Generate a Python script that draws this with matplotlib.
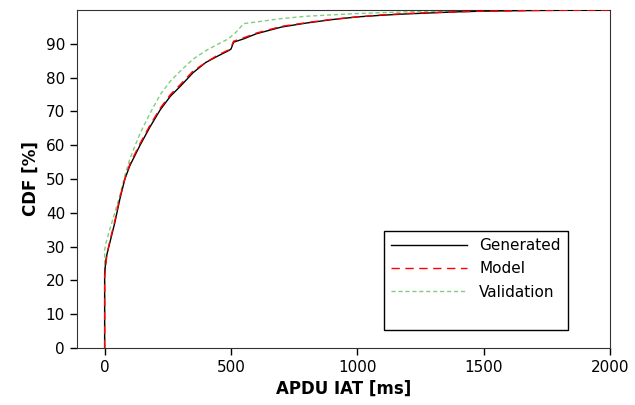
import numpy as np
import matplotlib
matplotlib.use('Agg')
import matplotlib.pyplot as plt
from matplotlib.lines import Line2D

# CDF curves (x in ms, y in %)
gen_x = [0, 0, 5, 10, 20, 40, 60, 80, 100, 140, 180, 220, 260, 300, 350, 400, 450, 490, 500,
         510, 550, 600, 700, 800, 900, 1000, 1100, 1200, 1300, 1400, 1500, 1700, 2000]
gen_y = [0, 22, 26, 28, 31, 37, 44, 50, 54, 60, 65.5, 70.5, 74.5, 77.5, 81.5, 84.5, 86.5, 88, 88.5,
         90.5, 91.5, 93, 95, 96.2, 97.2, 98, 98.5, 98.9, 99.2, 99.5, 99.7, 99.9, 100]

model_x = [0, 0, 5, 10, 20, 40, 60, 80, 100, 140, 180, 220, 260, 300, 350, 400, 450, 490, 500,
           510, 550, 600, 700, 800, 900, 1000, 1100, 1200, 1300, 1400, 1500, 1700, 2000]
model_y = [0, 21, 25, 28, 31.5, 37.5, 44.5, 50, 54.5, 60.5, 66, 71, 75, 78, 82, 84.5, 86.8, 88.2, 89,
           90.8, 91.8, 93.2, 95.2, 96.3, 97.3, 98, 98.6, 99, 99.3, 99.5, 99.7, 99.9, 100]

val_x = [0, 0, 5, 20, 40, 60, 80, 100, 140, 180, 220, 260, 300, 350, 400, 450, 490,
         520, 550, 600, 700, 800, 1000, 1200, 1500, 2000]
val_y = [0, 29, 31, 35, 40, 45, 51, 56, 63.5, 69.5, 75, 79, 82, 85.5, 88, 90, 91.5,
         93.5, 96, 96.5, 97.5, 98.2, 99, 99.5, 99.9, 100]

fig = plt.figure(figsize=(6.35, 4.05), dpi=100)
ax = fig.add_axes([0.121, 0.141, 0.84, 0.834])

ax.plot(gen_x, gen_y, color='black', lw=1.0, label='Generated', zorder=3)
ax.plot(model_x, model_y, color='red', lw=1.0, ls=(0, (6, 4)), label='Model', zorder=4)
ax.plot(val_x, val_y, color='#7fcf7f', lw=1.0, ls=(0, (3, 2)), label='Validation', zorder=2)

ax.set_xlim(-110, 2000)
ax.set_ylim(0, 100)
ax.set_xticks([0, 500, 1000, 1500, 2000])
ax.set_yticks(range(0, 100, 10))
ax.tick_params(direction='out', length=5, labelsize=11, width=1)
for s in ax.spines.values():
    s.set_color('#333333')

ax.set_xlabel('APDU IAT [ms]', fontsize=12, fontweight='bold')
ax.set_ylabel('CDF [%]', fontsize=12, fontweight='bold')

handles, labels = ax.get_legend_handles_labels()
handles.append(Line2D([], [], color='none'))
labels.append(' ')
leg = ax.legend(handles, labels, loc='lower right', bbox_to_anchor=(0.92, 0.053),
                borderaxespad=0, fontsize=11, handlelength=5, frameon=True, fancybox=False,
                edgecolor='black', framealpha=1, labelspacing=0.55, borderpad=0.45)
leg.get_frame().set_linewidth(1.0)

fig.savefig('out.png', dpi=100)
